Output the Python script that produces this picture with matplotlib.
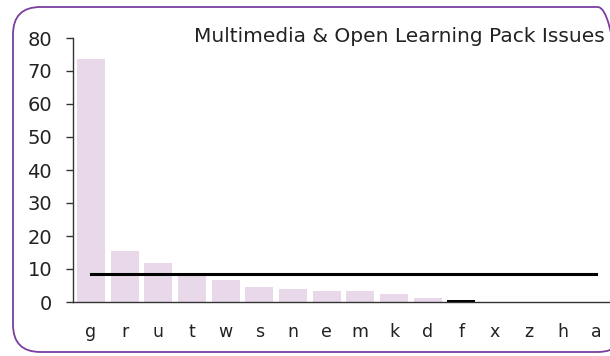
import numpy as np
import matplotlib as mpl
mpl.use("Agg")
import matplotlib.pyplot as plt
from matplotlib.patches import FancyBboxPatch

plt.rcParams["font.family"] = ["DejaVu Sans"]

categories = ["g", "r", "u", "t", "w", "s", "n", "e", "m", "k", "d", "f", "x", "z", "h", "a"]
counts = [73.7, 15.5, 11.8, 8.4, 6.7, 4.5, 3.9, 3.3, 3.3, 2.4, 1.2, 0.5, 0, 0, 0, 0]
bar_colors = ["#e8d8ea"] * 11 + ["#000000"] + ["#e8d8ea"] * 4
title = "Multimedia & Open Learning Pack Issues"

mean_val = np.mean(counts)

fig = plt.figure(figsize=(6.1, 3.56), dpi=100)
ax = fig.add_axes([73 / 610, 1 - 302 / 356, (614 - 73) / 610, (302 - 38) / 356])

x = np.arange(len(categories))
ax.bar(x, counts, width=0.83, color=bar_colors, zorder=2)
ax.plot([x[0], x[-1]], [mean_val, mean_val], color="black", lw=2.2, zorder=3)

ax.set_xlim(-0.53, len(categories) - 0.47)
ax.set_ylim(0, 80)
ax.set_yticks(range(0, 81, 10))
ax.set_xticks(x)
ax.set_xticklabels(categories)
ax.tick_params(axis="y", length=5, width=1, color="#333333", labelsize=14,
               labelcolor="#222222", pad=10)
ax.tick_params(axis="x", length=0, labelsize=12.5, labelcolor="#222222", pad=15)

for side in ["top", "right"]:
    ax.spines[side].set_visible(False)
for side in ["left", "bottom"]:
    ax.spines[side].set_color("#333333")
    ax.spines[side].set_linewidth(1)

fig.text(605 / 610, 1 - 37 / 356, title, ha="right", va="center",
         fontsize=14.5, color="#222222")

# rounded frame, running off the right edge of the canvas
border = FancyBboxPatch((13 / 610, 4 / 356), (612 / 610), (345 / 356),
                        boxstyle="round,pad=0,rounding_size=0.045",
                        transform=fig.transFigure, fill=False,
                        edgecolor="#7a3fa0", linewidth=1.3,
                        mutation_aspect=610 / 356)
fig.patches.append(border)

fig.savefig("out.png", dpi=100)
